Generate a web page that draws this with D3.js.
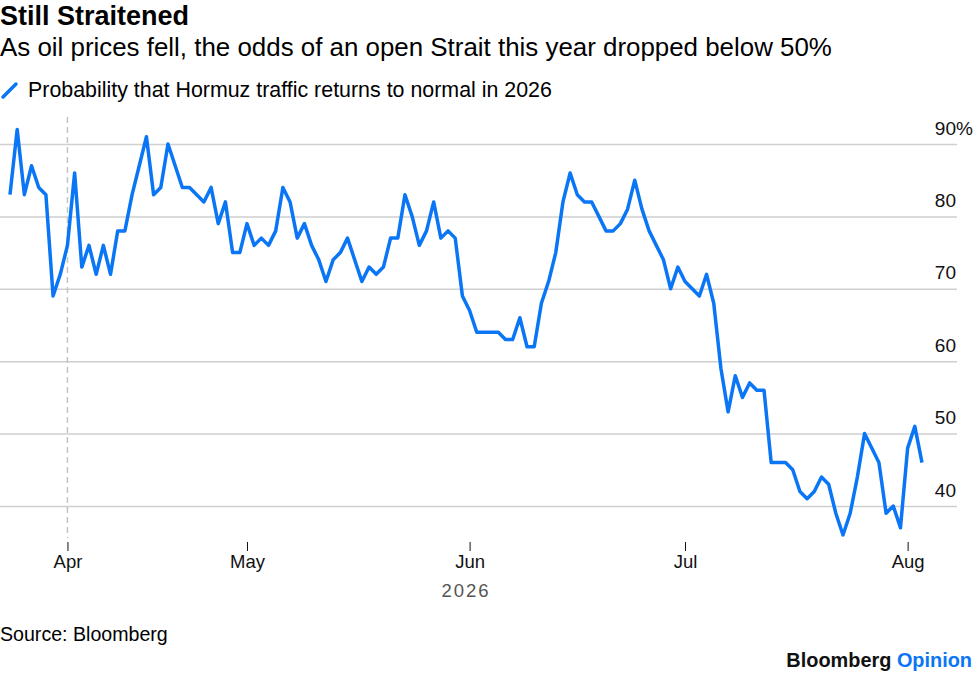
<!DOCTYPE html>
<html>
<head>
<meta charset="utf-8">
<script src="https://cdn.jsdelivr.net/npm/d3@7"></script>
<style>
	body { margin: 0; background: #fff; }
	svg { display: block; font-family: 'Liberation Sans', Arial, sans-serif; }
</style>
</head>
<body>
<div id="chart"></div>
<script>
'use strict';

// daily readings, Polymarket-style odds (%)
var values = [
	83, 92, 83, 87, 84, 83, 69, 72, 76, 86, 73, 76, 72, 76, 72, 78, 78, 83, 87, 91,
	83, 84, 90, 87, 84, 84, 83, 82, 84, 79, 82, 75, 75, 79,
	76, 77, 76, 78, 84, 82, 77, 79, 76, 74, 71, 74, 75, 77, 74, 71, 73, 72, 73, 77,
	77, 83, 80, 76, 78, 82, 77, 78, 77, 69, 67,
	64, 64, 64, 64, 63, 63, 66, 62, 62, 68, 71, 75, 82, 86, 83, 82, 82, 80, 78, 78,
	79, 81, 85, 81, 78, 76, 74, 70, 73, 71, 70, 69, 72, 68, 59,
	53, 58, 55, 57, 56, 56, 46, 46, 46, 45, 42, 41, 42, 44, 43, 39, 36, 39, 44, 50,
	48, 46, 39, 40, 37, 48, 51, 46
];

// position (day index) of each month tick
var monthIdx = [8, 33, 64, 94, 125];
var monthLabels = ['Apr', 'May', 'Jun', 'Jul', 'Aug'];
var yTicks = [40, 50, 60, 70, 80, 90];
var markerIdx = 8;

var width = 974, height = 676;
var blue = '#0a76f6';
var labelFont = 'Liberation Sans, Arial, sans-serif';

var svg = d3.select('#chart').append('svg')
	.attr('width', width)
	.attr('height', height);

var x = d3.scaleLinear().domain([0, values.length - 1]).range([10, 922]);
var y = d3.scaleLinear().domain([40, 90]).range([506, 144]);

// headline
svg.append('text')
	.attr('x', 0).attr('y', 25)
	.style('font-size', '27px').style('font-weight', 'bold')
	.text('Still Straitened');
svg.append('text')
	.attr('x', 0).attr('y', 56)
	.style('font-size', '25.9px')
	.text('As oil prices fell, the odds of an open Strait this year dropped below 50%');

// legend
svg.append('line')
	.attr('x1', 3).attr('y1', 97).attr('x2', 16).attr('y2', 84)
	.attr('stroke', blue).attr('stroke-width', 3.5).attr('stroke-linecap', 'round');
svg.append('text')
	.attr('x', 28).attr('y', 97)
	.style('font-size', '21.4px')
	.text('Probability that Hormuz traffic returns to normal in 2026');

// gridlines + right-hand labels
var yAxis = svg.append('g')
	.call(d3.axisRight(y).tickValues(yTicks).tickSize(957).tickFormat(function (d) { return d; }));
yAxis.select('.domain').remove();
yAxis.selectAll('line').attr('stroke', '#cfcfcf').attr('stroke-width', 1.5);
yAxis.selectAll('text')
	.attr('x', 956).attr('dy', -10)
	.attr('text-anchor', 'end')
	.style('font-size', '19px').style('font-family', labelFont)
	.attr('fill', '#111');
yAxis.selectAll('.tick').filter(function (d) { return d === 90; })
	.append('text')
	.attr('x', 956).attr('dy', -10)
	.attr('text-anchor', 'start')
	.attr('fill', '#111')
	.style('font-size', '19px').style('font-family', labelFont)
	.text('%');

// dashed marker at start of April
svg.append('line')
	.attr('x1', x(markerIdx)).attr('x2', x(markerIdx))
	.attr('y1', 117).attr('y2', 538)
	.attr('stroke', '#c4c4c4').attr('stroke-width', 1.5)
	.attr('stroke-dasharray', '6,4');

// months
var xAxis = svg.append('g')
	.attr('transform', 'translate(0,542)')
	.call(d3.axisBottom(x).tickValues(monthIdx).tickSize(9).tickPadding(4)
		.tickFormat(function (d, i) { return monthLabels[i]; }));
xAxis.select('.domain').remove();
xAxis.selectAll('line').attr('stroke', '#111');
xAxis.selectAll('text')
	.attr('fill', '#111')
	.style('font-size', '18.5px').style('font-family', labelFont);

svg.append('text')
	.attr('x', 466).attr('y', 597)
	.attr('text-anchor', 'middle')
	.attr('fill', '#555')
	.style('font-size', '18.5px').style('letter-spacing', '2px')
	.text('2026');

// the series
var line = d3.line()
	.x(function (d, i) { return x(i); })
	.y(function (d) { return y(d); });

svg.append('path')
	.datum(values)
	.attr('d', line)
	.attr('fill', 'none')
	.attr('stroke', blue)
	.attr('stroke-width', 3.5)
	.attr('stroke-linejoin', 'round');

// footer
svg.append('text')
	.attr('x', 0).attr('y', 641)
	.style('font-size', '19.6px')
	.text('Source: Bloomberg');

var brand = svg.append('text')
	.attr('x', 972).attr('y', 667)
	.attr('text-anchor', 'end')
	.style('font-size', '19.9px').style('font-weight', 'bold');
brand.append('tspan').attr('fill', '#111').text('Bloomberg ');
brand.append('tspan').attr('fill', blue).text('Opinion');
</script>
</body>
</html>
